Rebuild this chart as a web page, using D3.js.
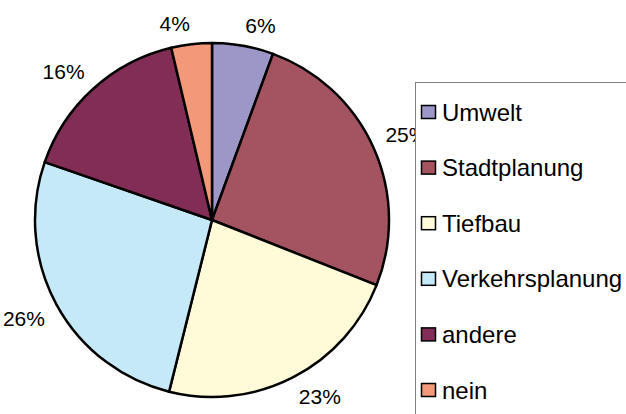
<!DOCTYPE html>
<html>
<head>
<meta charset="utf-8">
<script src="https://cdn.jsdelivr.net/npm/d3@7"></script>
<style>
  body { margin: 0; background: #fff; }
  text { font-family: "Liberation Sans", Arial, sans-serif; fill: #000; }
</style>
</head>
<body>
<script>
const categories = ["Umwelt", "Stadtplanung", "Tiefbau", "Verkehrsplanung", "andere", "nein"];
const values = [5.6, 25.4, 22.9, 26.4, 16.0, 3.7];
const colors = ["#9d97c7", "#a45360", "#fffad7", "#c6e9f8", "#822d56", "#f39878"];

const width = 626, height = 414;
const center = {x: 212, y: 220};
const radius = 177;

const svg = d3.select("body")
  .append("svg")
  .attr("width", width)
  .attr("height", height);

const total = d3.sum(values);
const pie = d3.pie().sort(null).value((d) => d.v);
const arcs = pie(categories.map((c, i) => ({c: c, v: values[i], i: i})));

const arc = d3.arc().innerRadius(0).outerRadius(radius);

const g = svg.append("g")
  .attr("transform", "translate(" + center.x + "," + center.y + ")");

g.selectAll("path")
  .data(arcs)
  .enter()
  .append("path")
  .attr("d", arc)
  .attr("fill", (d) => colors[d.data.i])
  .attr("stroke", "#000")
  .attr("stroke-width", 2.5)
  .attr("stroke-linejoin", "round");

// labels outside the pie: the corner nearest the pie sits at labelR
const labelR = 190;
g.selectAll("text.pct")
  .data(arcs)
  .enter()
  .append("text")
  .attr("class", "pct")
  .style("font-size", "21px")
  .each(function (d) {
    const a = (d.startAngle + d.endAngle) / 2;
    const x = labelR * Math.sin(a), y = -labelR * Math.cos(a);
    d3.select(this)
      .attr("x", x)
      .attr("y", y)
      .attr("text-anchor", Math.sin(a) >= 0 ? "start" : "end")
      .attr("dy", Math.cos(a) >= 0 ? "0" : "0.72em")
      .text(Math.round(d.data.v / total * 100) + "%");
  });

// legend (drawn on top, so it clips the 25% label like the original)
const legend = svg.append("g");
legend.append("rect")
  .attr("x", 415.5)
  .attr("y", 82.5)
  .attr("width", 260)
  .attr("height", 400)
  .attr("fill", "#fff")
  .attr("stroke", "#808080")
  .attr("stroke-width", 1);

const ly = d3.scalePoint().domain(categories).range([112, 390]);

const items = legend.selectAll("g.item")
  .data(categories)
  .enter()
  .append("g")
  .attr("class", "item")
  .attr("transform", (d) => "translate(421," + ly(d) + ")");

items.append("rect")
  .attr("x", 0.5)
  .attr("y", -6.5)
  .attr("width", 14)
  .attr("height", 13)
  .attr("fill", (d, i) => colors[i])
  .attr("stroke", "#000")
  .attr("stroke-width", 1.5);

items.append("text")
  .attr("x", 21)
  .attr("y", 0)
  .attr("dy", "0.36em")
  .style("font-size", "24px")
  .text((d) => d);
</script>
</body>
</html>
